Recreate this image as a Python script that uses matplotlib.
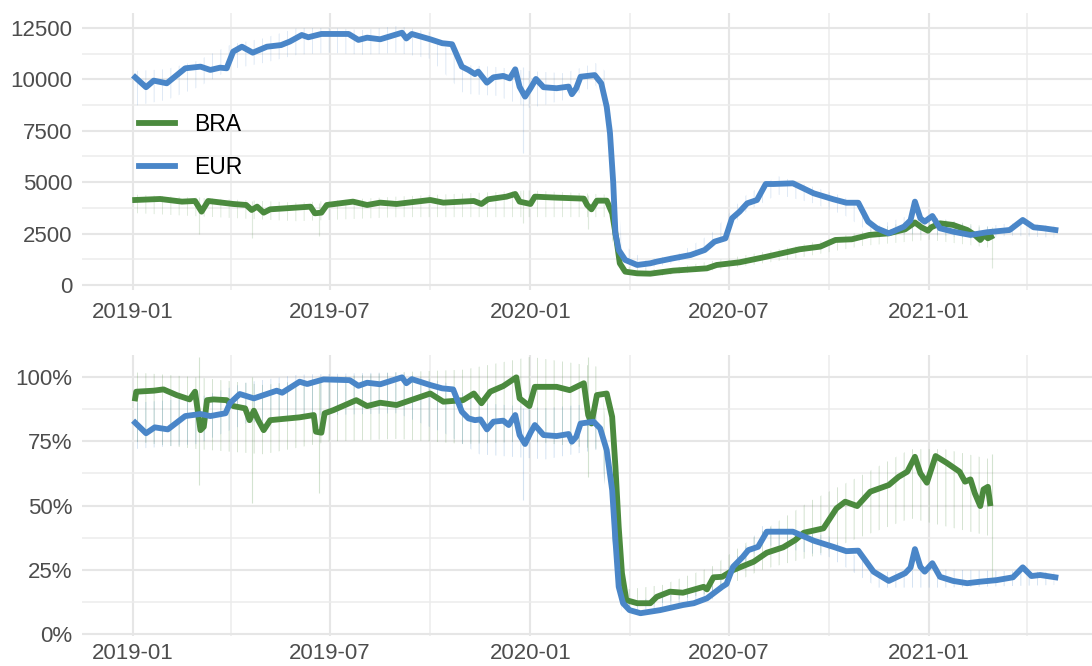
import numpy as np
import pandas as pd
import matplotlib
matplotlib.use("Agg")
import matplotlib.pyplot as plt
import matplotlib.dates as mdates
from matplotlib.ticker import MultipleLocator, FuncFormatter

plt.rcParams['font.family'] = ['Liberation Sans', 'DejaVu Sans']
plt.rcParams['hatch.linewidth'] = 0.7

GREEN = '#4b8a3e'
BLUE = '#4a86c8'

# ---- 7-day average, flight counts (top) ----
bra_cnt_dates = ['2019-01-03', '2019-01-26', '2019-02-15', '2019-02-27', '2019-03-05', '2019-03-11',
                 '2019-04-03', '2019-04-15', '2019-04-20', '2019-04-25', '2019-05-01', '2019-05-07',
                 '2019-06-13', '2019-06-17', '2019-06-23', '2019-06-28', '2019-07-22', '2019-08-04',
                 '2019-08-16', '2019-08-31', '2019-10-01', '2019-10-13', '2019-11-10', '2019-11-17',
                 '2019-11-23', '2019-12-10', '2019-12-18', '2019-12-22', '2020-01-01', '2020-01-05',
                 '2020-01-25', '2020-02-19', '2020-02-22', '2020-02-26', '2020-03-02', '2020-03-11',
                 '2020-03-16', '2020-03-20', '2020-03-23', '2020-03-28', '2020-04-08', '2020-04-20',
                 '2020-05-11', '2020-06-11', '2020-06-20', '2020-07-11', '2020-08-05', '2020-09-04',
                 '2020-09-23', '2020-10-07', '2020-10-22', '2020-11-07', '2020-11-25', '2020-12-10',
                 '2020-12-19', '2020-12-25', '2020-12-31', '2021-01-03', '2021-01-11', '2021-01-23',
                 '2021-02-05', '2021-02-12', '2021-02-17', '2021-02-21', '2021-02-24', '2021-02-27']
bra_cnt = [4134, 4183, 4054, 4086, 3567, 4086,
           3940, 3891, 3648, 3810, 3518, 3680,
           3810, 3486, 3518, 3891, 4054, 3891,
           4005, 3940, 4134, 4005, 4086, 3940,
           4167, 4296, 4426, 4054, 3940, 4296,
           4248, 4200, 3891, 3680, 4102, 4102,
           3486, 2189, 1055, 648, 567, 550,
           697, 810, 973, 1103, 1378, 1735,
           1865, 2189, 2222, 2432, 2514, 2708,
           3040, 2806, 2640, 2806, 3000, 2920,
           2675, 2432, 2189, 2432, 2270, 2351]

eur_cnt_dates = ['2019-01-03', '2019-01-13', '2019-01-20', '2019-02-01', '2019-02-18', '2019-03-04',
                 '2019-03-13', '2019-03-22', '2019-03-28', '2019-04-03', '2019-04-11', '2019-04-21',
                 '2019-05-04', '2019-05-17', '2019-05-25', '2019-06-05', '2019-06-11', '2019-06-23',
                 '2019-07-18', '2019-07-27', '2019-08-04', '2019-08-16', '2019-09-05', '2019-09-09',
                 '2019-09-14', '2019-10-01', '2019-10-12', '2019-10-21', '2019-10-30', '2019-11-05',
                 '2019-11-11', '2019-11-14', '2019-11-22', '2019-11-28', '2019-12-07', '2019-12-13',
                 '2019-12-18', '2019-12-22', '2019-12-27', '2020-01-01', '2020-01-06', '2020-01-13',
                 '2020-01-25', '2020-02-05', '2020-02-08', '2020-02-12', '2020-02-16', '2020-02-29',
                 '2020-03-06', '2020-03-11', '2020-03-14', '2020-03-17', '2020-03-19', '2020-03-22',
                 '2020-03-28', '2020-04-08', '2020-04-20', '2020-04-26', '2020-05-11', '2020-05-27',
                 '2020-06-09', '2020-06-18', '2020-06-28', '2020-07-04', '2020-07-11', '2020-07-18',
                 '2020-07-27', '2020-08-04', '2020-08-11', '2020-08-29', '2020-09-17', '2020-10-05',
                 '2020-10-17', '2020-10-28', '2020-11-06', '2020-11-14', '2020-11-25', '2020-12-09',
                 '2020-12-15', '2020-12-19', '2020-12-24', '2020-12-28', '2021-01-04', '2021-01-11',
                 '2021-01-23', '2021-02-08', '2021-02-23', '2021-03-16', '2021-03-28', '2021-04-07',
                 '2021-04-16', '2021-04-27']
eur_cnt = [10100, 9620, 9940, 9810, 10540, 10620,
           10460, 10570, 10540, 11350, 11590, 11300,
           11590, 11670, 11840, 12160, 12050, 12210,
           12210, 11920, 12030, 11950, 12270, 11990,
           12210, 11950, 11760, 11710, 10620, 10460,
           10260, 10380, 9840, 10100, 10170, 10050,
           10490, 9640, 9160, 9570, 10020, 9620,
           9570, 9650, 9280, 9570, 10130, 10210,
           9810, 8670, 7380, 4950, 2510, 1700,
           1216, 973, 1055, 1135, 1297, 1459,
           1702, 2108, 2270, 3243, 3567, 3972,
           4134, 4912, 4912, 4945, 4460, 4170,
           4000, 4000, 3080, 2757, 2514, 2838,
           3150, 4054, 3243, 3080, 3356, 2757,
           2595, 2432, 2563, 2675, 3162, 2806,
           2757, 2675]

# ---- 7-day average, share of 2019 level (bottom, %) ----
bra_pct_dates = ['2019-01-03', '2019-01-04', '2019-01-20', '2019-01-29', '2019-02-10', '2019-02-22',
                 '2019-02-27', '2019-03-04', '2019-03-07', '2019-03-10', '2019-03-16', '2019-03-28',
                 '2019-04-03', '2019-04-14', '2019-04-18', '2019-04-22', '2019-04-26', '2019-05-01',
                 '2019-05-07', '2019-06-03', '2019-06-16', '2019-06-18', '2019-06-23', '2019-06-26',
                 '2019-07-04', '2019-07-25', '2019-08-04', '2019-08-16', '2019-08-31', '2019-10-01',
                 '2019-10-13', '2019-10-31', '2019-11-10', '2019-11-17', '2019-11-25', '2019-12-07',
                 '2019-12-19', '2019-12-22', '2019-12-31', '2020-01-05', '2020-01-25', '2020-02-06',
                 '2020-02-19', '2020-02-23', '2020-02-26', '2020-03-02', '2020-03-11', '2020-03-16',
                 '2020-03-19', '2020-03-22', '2020-03-25', '2020-03-29', '2020-04-08', '2020-04-20',
                 '2020-04-26', '2020-05-08', '2020-05-20', '2020-06-08', '2020-06-11', '2020-06-17',
                 '2020-06-25', '2020-07-05', '2020-07-24', '2020-08-05', '2020-08-20', '2020-08-31',
                 '2020-09-08', '2020-09-26', '2020-10-08', '2020-10-16', '2020-10-27', '2020-11-08',
                 '2020-11-25', '2020-12-04', '2020-12-12', '2020-12-19', '2020-12-24', '2020-12-30',
                 '2021-01-07', '2021-01-17', '2021-01-29', '2021-02-03', '2021-02-08', '2021-02-12',
                 '2021-02-17', '2021-02-20', '2021-02-24', '2021-02-26']
bra_pct = [91.8, 94.4, 94.8, 95.3, 93.1, 91.4,
           94.4, 79.4, 80.7, 91.1, 91.4, 91.1,
           88.8, 87.9, 83.3, 87.0, 83.3, 79.4,
           83.3, 84.4, 85.3, 78.8, 78.4, 86.0,
           87.2, 91.1, 88.8, 90.1, 89.2, 93.7,
           90.5, 91.1, 93.7, 89.9, 94.4, 96.6,
           100.0, 91.8, 88.8, 96.3, 96.3, 95.0,
           97.7, 85.3, 82.0, 93.1, 93.7, 84.6,
           65.1, 41.7, 23.6, 13.1, 11.9, 11.9,
           14.4, 16.4, 16.0, 18.3, 17.3, 22.0,
           22.2, 24.8, 28.1, 31.6, 33.7, 36.5,
           39.4, 41.1, 48.9, 51.5, 49.8, 55.4,
           58.0, 61.2, 63.2, 69.0, 62.6, 58.9,
           69.3, 66.7, 63.2, 59.3, 60.2, 54.8,
           49.8, 56.3, 57.3, 50.9]

eur_pct_dates = ['2019-01-03', '2019-01-13', '2019-01-21', '2019-02-02', '2019-02-18', '2019-03-04',
                 '2019-03-13', '2019-03-27', '2019-03-31', '2019-04-09', '2019-04-22', '2019-05-13',
                 '2019-05-18', '2019-06-03', '2019-06-10', '2019-06-25', '2019-07-19', '2019-07-27',
                 '2019-08-04', '2019-08-16', '2019-09-05', '2019-09-09', '2019-09-14', '2019-10-01',
                 '2019-10-12', '2019-10-22', '2019-10-30', '2019-11-05', '2019-11-11', '2019-11-16',
                 '2019-11-22', '2019-11-28', '2019-12-07', '2019-12-12', '2019-12-18', '2019-12-22',
                 '2019-12-27', '2020-01-01', '2020-01-05', '2020-01-13', '2020-01-25', '2020-02-05',
                 '2020-02-08', '2020-02-12', '2020-02-16', '2020-02-28', '2020-03-05', '2020-03-11',
                 '2020-03-16', '2020-03-19', '2020-03-22', '2020-03-26', '2020-04-01', '2020-04-11',
                 '2020-04-29', '2020-05-20', '2020-05-30', '2020-06-11', '2020-06-25', '2020-06-29',
                 '2020-07-05', '2020-07-14', '2020-07-19', '2020-07-28', '2020-08-05', '2020-08-29',
                 '2020-09-17', '2020-10-05', '2020-10-17', '2020-10-28', '2020-11-11', '2020-11-25',
                 '2020-12-10', '2020-12-15', '2020-12-19', '2020-12-24', '2020-12-28', '2021-01-04',
                 '2021-01-11', '2021-01-23', '2021-02-05', '2021-02-17', '2021-03-04', '2021-03-19',
                 '2021-03-28', '2021-04-05', '2021-04-13', '2021-04-27']
eur_pct = [82.3, 78.2, 80.5, 79.7, 84.9, 85.7,
           84.9, 86.0, 89.9, 93.5, 91.8, 94.8,
           94.0, 98.3, 97.4, 99.2, 98.9, 96.7,
           97.9, 97.3, 100.0, 97.7, 99.3, 97.0,
           95.7, 95.3, 86.6, 84.0, 83.3, 83.6,
           79.7, 82.7, 83.1, 81.4, 85.3, 77.5,
           74.0, 78.4, 81.4, 77.5, 77.1, 77.9,
           74.9, 76.8, 82.0, 82.7, 80.1, 71.6,
           56.0, 36.5, 18.3, 11.9, 9.2, 8.0,
           9.2, 11.2, 11.9, 13.8, 18.3, 19.4,
           26.1, 30.0, 32.6, 33.9, 39.8, 39.8,
           36.3, 33.9, 32.2, 32.4, 24.2, 20.6,
           23.6, 25.8, 33.0, 26.1, 24.2, 27.5,
           22.2, 20.6, 19.7, 20.3, 20.9, 22.0,
           25.9, 22.5, 22.9, 22.0]

# ---- daily values: low / high envelope of the faint daily lines ----
bra_cnt_day_dates = ['2019-01-01', '2019-06-01', '2019-09-01', '2020-01-01', '2020-03-10', '2020-03-25',
                     '2020-05-01', '2020-07-01', '2020-09-01', '2020-11-01', '2021-01-01', '2021-02-27']
bra_cnt_day_lo = [3500, 3100, 3300, 3300, 3300, 500, 450, 800, 1300, 1900, 2200, 1800]
bra_cnt_day_hi = [4400, 4000, 4300, 4600, 4400, 900, 750, 1300, 1900, 2600, 3300, 2800]

eur_cnt_day_dates = ['2019-01-01', '2019-02-01', '2019-03-01', '2019-04-01', '2019-05-01', '2019-06-01',
                     '2019-07-01', '2019-08-01', '2019-09-01', '2019-10-01', '2019-11-01', '2019-12-01',
                     '2020-01-01', '2020-02-01', '2020-03-01', '2020-03-12', '2020-03-25', '2020-04-15',
                     '2020-05-15', '2020-06-15', '2020-07-15', '2020-08-15', '2020-09-15', '2020-10-15',
                     '2020-11-15', '2020-12-15', '2021-01-15', '2021-02-15', '2021-03-15', '2021-04-26']
eur_cnt_day_lo = [8700, 9000, 9600, 10500, 10800, 11200, 11300, 11200, 11300, 11000, 9300, 9200,
                  8600, 9000, 9700, 8000, 1100, 800, 1100, 1800, 3500, 4400, 4000, 3400,
                  2300, 2500, 2400, 2200, 2400, 2300]
eur_cnt_day_hi = [10400, 10500, 10900, 11700, 12000, 12500, 12500, 12400, 12600, 12300, 10700, 10600,
                  10400, 10300, 10800, 10300, 2000, 1200, 1500, 2500, 4300, 5300, 4800, 4300,
                  2900, 3400, 3200, 2800, 3000, 2900]

bra_pct_day_dates = ['2019-01-01', '2019-03-01', '2019-05-01', '2019-07-01', '2019-09-01', '2019-11-01',
                     '2020-01-01', '2020-03-05', '2020-03-25', '2020-05-01', '2020-06-15', '2020-08-01',
                     '2020-09-15', '2020-11-01', '2020-12-15', '2021-01-15', '2021-02-27']
bra_pct_day_lo = [75, 72, 70, 75, 76, 74, 75, 72, 10, 12, 16, 25, 30, 38, 45, 42, 38]
bra_pct_day_hi = [102, 100, 97, 100, 102, 103, 108, 104, 17, 19, 26, 40, 52, 62, 72, 72, 68]

eur_pct_day_dates = ['2019-01-01', '2019-03-01', '2019-04-15', '2019-06-01', '2019-09-01', '2019-10-15',
                     '2019-11-15', '2020-01-15', '2020-03-05', '2020-03-25', '2020-06-15', '2020-08-01',
                     '2020-10-01', '2020-11-15', '2021-01-15', '2021-04-26']
eur_pct_day_lo = [72, 74, 82, 85, 86, 78, 70, 68, 72, 8, 13, 35, 30, 18, 18, 19]
eur_pct_day_hi = [90, 92, 98, 101, 102, 98, 90, 88, 90, 12, 18, 42, 38, 24, 25, 24]

# single-day drops (holidays)
bra_cnt_spike_dates = ['2019-03-03', '2019-04-20', '2019-06-21', '2019-12-25', '2020-02-23', '2021-02-28']
bra_cnt_spike_lo = [2500, 2270, 2400, 3000, 2700, 830]
bra_cnt_spike_hi = [4300, 4100, 4000, 4600, 4400, 2800]
eur_cnt_spike_dates = ['2019-12-25']
eur_cnt_spike_lo = [6400]
eur_cnt_spike_hi = [10600]
bra_pct_spike_dates = ['2019-03-03', '2019-04-20', '2019-06-21', '2020-02-23', '2021-02-28']
bra_pct_spike_lo = [58, 51, 55, 61, 21]
bra_pct_spike_hi = [108, 100, 100, 108, 70]
eur_pct_spike_dates = ['2019-12-25']
eur_pct_spike_lo = [52]
eur_pct_spike_hi = [88]


def d(x):
    return pd.to_datetime(x)


fig = plt.figure(figsize=(10.92, 6.66), dpi=100)
ax1 = fig.add_axes([0.0751, 0.5646, 0.9249, 0.4159])
ax2 = fig.add_axes([0.0751, 0.0450, 0.9249, 0.4219])

x0 = pd.Timestamp('2019-01-01') - pd.Timedelta(days=46.8)
x1 = pd.Timestamp('2019-01-01') + pd.Timedelta(days=880.6)


def daily(ax, dates, lo, hi, sdates, slo, shi, color, a):
    rgba = matplotlib.colors.to_rgba(color, a)
    ax.fill_between(d(dates), lo, hi, facecolor='none', edgecolor=rgba,
                    hatch='||', linewidth=0, zorder=1)
    ax.vlines(d(sdates), slo, shi, color=rgba, lw=0.8, zorder=1)


LW = 4.2
daily(ax1, bra_cnt_day_dates, bra_cnt_day_lo, bra_cnt_day_hi,
      bra_cnt_spike_dates, bra_cnt_spike_lo, bra_cnt_spike_hi, GREEN, 0.18)
daily(ax1, eur_cnt_day_dates, eur_cnt_day_lo, eur_cnt_day_hi,
      eur_cnt_spike_dates, eur_cnt_spike_lo, eur_cnt_spike_hi, BLUE, 0.18)
ax1.plot(d(bra_cnt_dates), bra_cnt, color=GREEN, lw=LW, solid_joinstyle='round', label='BRA', zorder=3)
ax1.plot(d(eur_cnt_dates), eur_cnt, color=BLUE, lw=LW, solid_joinstyle='round', label='EUR', zorder=3)

daily(ax2, bra_pct_day_dates, bra_pct_day_lo, bra_pct_day_hi,
      bra_pct_spike_dates, bra_pct_spike_lo, bra_pct_spike_hi, GREEN, 0.24)
daily(ax2, eur_pct_day_dates, eur_pct_day_lo, eur_pct_day_hi,
      eur_pct_spike_dates, eur_pct_spike_lo, eur_pct_spike_hi, BLUE, 0.24)
ax2.plot(d(bra_pct_dates), bra_pct, color=GREEN, lw=LW, solid_joinstyle='round', zorder=3)
ax2.plot(d(eur_pct_dates), eur_pct, color=BLUE, lw=LW, solid_joinstyle='round', zorder=3)

ax1.set_ylim(-243, 13230)
ax1.yaxis.set_major_locator(MultipleLocator(2500))
ax1.yaxis.set_minor_locator(MultipleLocator(1250))
ax1.yaxis.set_major_formatter(FuncFormatter(lambda v, p: f'{v:.0f}'))

ax2.set_ylim(-0.9, 108.7)
ax2.yaxis.set_major_locator(MultipleLocator(25))
ax2.yaxis.set_minor_locator(MultipleLocator(12.5))
ax2.yaxis.set_major_formatter(FuncFormatter(lambda v, p: f'{v:.0f}%'))

for ax in (ax1, ax2):
    ax.set_xlim(x0, x1)
    ax.xaxis.set_major_locator(mdates.MonthLocator(bymonth=[1, 7]))
    ax.xaxis.set_minor_locator(mdates.MonthLocator(bymonth=[4, 10]))
    ax.xaxis.set_major_formatter(mdates.DateFormatter('%Y-%m'))
    for s in ax.spines.values():
        s.set_visible(False)
    ax.grid(which='major', color='#e6e6e6', lw=1.5, zorder=0)
    ax.grid(which='minor', color='#ececec', lw=1.1, zorder=0)
    ax.set_axisbelow(True)
    ax.tick_params(which='both', length=0)
    ax.tick_params(axis='y', labelsize=16, labelcolor='#4d4d4d', pad=7)

ax1.tick_params(axis='x', labelsize=16, labelcolor='#4d4d4d', pad=9)
ax2.tick_params(axis='x', labelsize=16, labelcolor='#4d4d4d', pad=5)

ax1.legend(loc='center left', bbox_to_anchor=(0.1269, 0.7808), bbox_transform=fig.transFigure,
           frameon=False, fontsize=16.5, handlelength=1.6, handletextpad=0.84,
           labelspacing=0.9, borderpad=0, borderaxespad=0)

fig.savefig('out.png', dpi=100)
